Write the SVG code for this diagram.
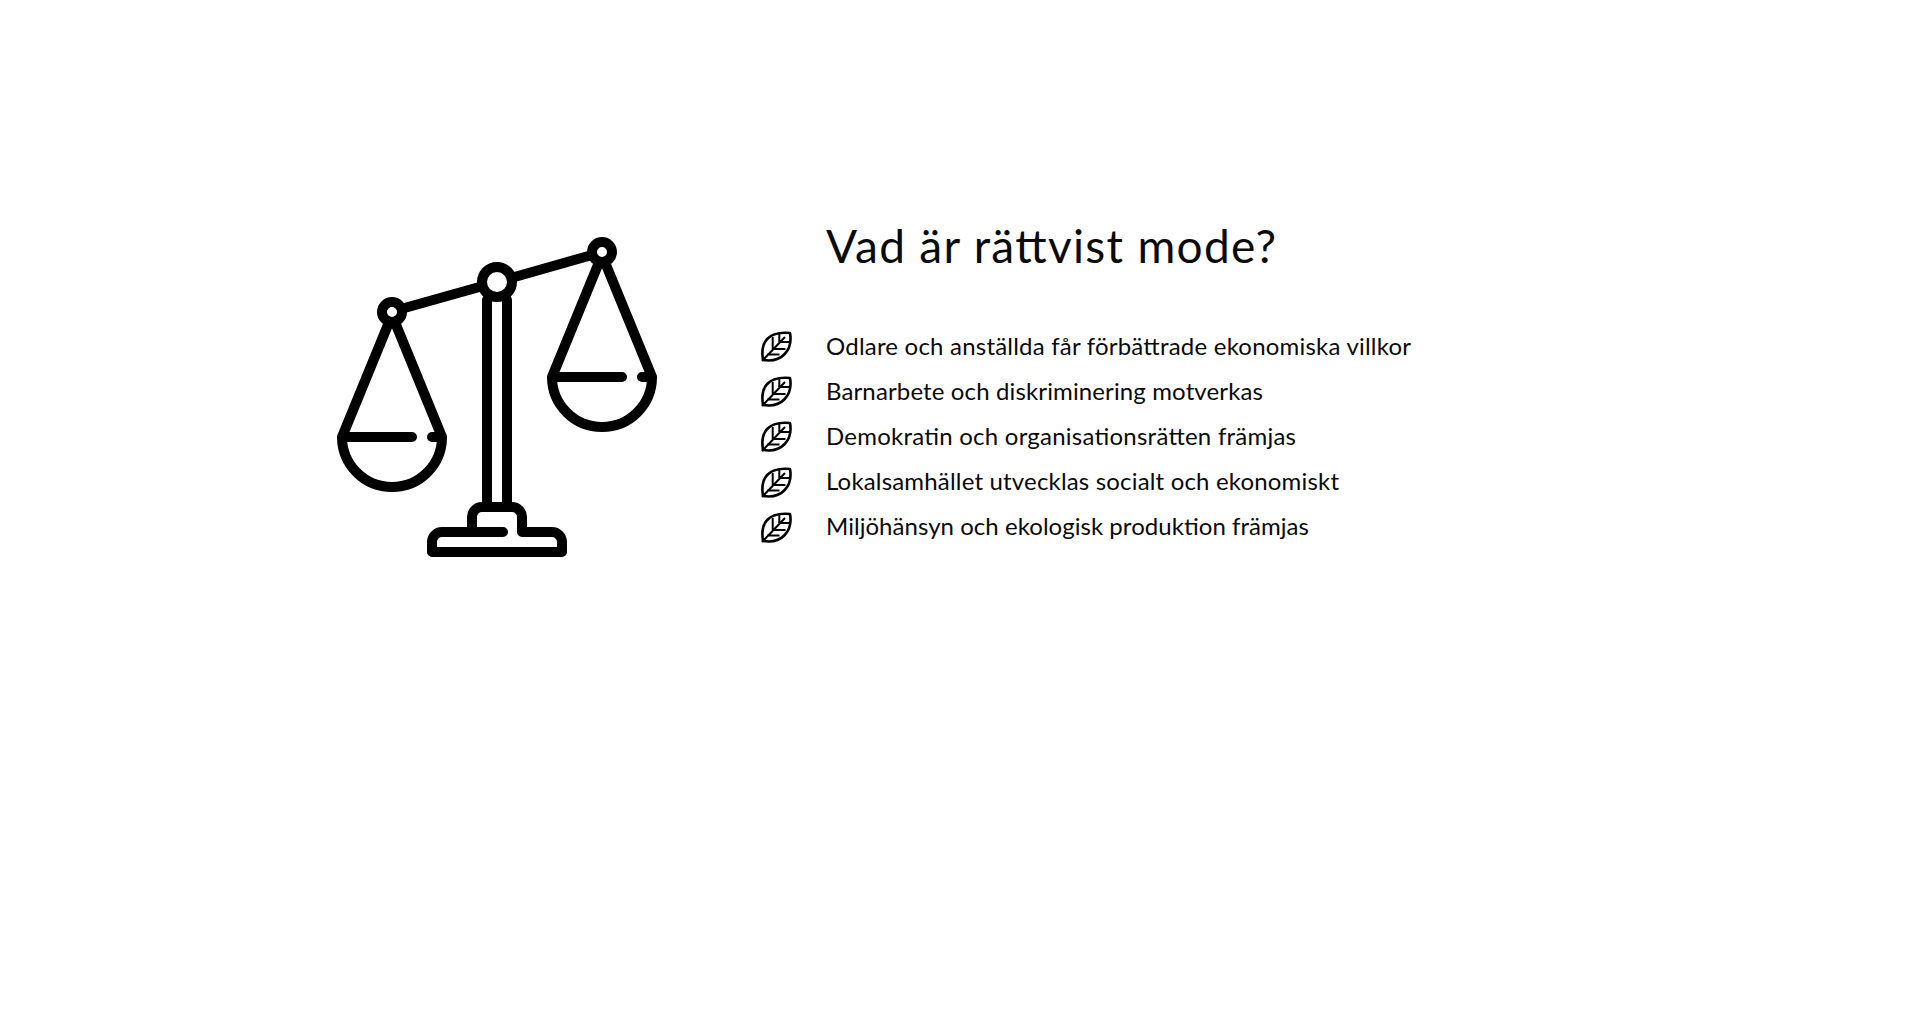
<svg xmlns="http://www.w3.org/2000/svg" width="1920" height="1024" viewBox="0 0 1920 1024">
<style>
.s{fill:none;stroke:#000;stroke-width:10;stroke-linecap:round;stroke-linejoin:round}
.c{fill:#fff;stroke:#000;stroke-width:10}
.l{fill:none;stroke:#000;stroke-width:2.6;stroke-linecap:round;stroke-linejoin:round}
.v{fill:none;stroke:#000;stroke-width:2;stroke-linecap:butt}
text{font-family:"Lato","Noto Sans",sans-serif;fill:#0a0a0a}
.t{font-size:46px}
.b{font-size:24px}
</style>
<defs>
<g id="leaf">
<path class="l" d="M763 360C760 342 768 331 790 333C793 350 782 363 763 360Z"/>
<path class="v" d="M762 361L785 337M779.300 342V334M779.300 342H789.500M772.700 349V337M772.700 349H785.500M767 354.500H779.500"/>
</g>
</defs>
<rect width="1920" height="1024" fill="#fff"/>
<g id="scale">
<path class="s" d="M401 309L483 286M511 278L592 255"/>
<path class="s" d="M392 315L342 437A50 50 0 0 0 442 437L392 315M342 437H412M432 437H442"/>
<path class="s" d="M602 255L552 377A50 50 0 0 0 652 377L602 255M552 377H622M642 377H652"/>
<path class="s" d="M487 300V507M507 300V507"/>
<path class="s" d="M503 532H442A10 10 0 0 0 432 542V552H562V542A10 10 0 0 0 552 532H522V517A10 10 0 0 0 512 507H482A10 10 0 0 0 472 517V532"/>
<circle class="c" cx="392" cy="312" r="10"/>
<circle class="c" cx="497" cy="282" r="15"/>
<circle class="c" cx="602" cy="252" r="10"/>
</g>
<g id="title"><text class="t" x="826" y="263" textLength="450">Vad är rättvist mode?</text></g>
<g id="item1"><use href="#leaf"/><text class="b" x="826" y="355" textLength="585">Odlare och anställda får förbättrade ekonomiska villkor</text></g>
<g id="item2"><use href="#leaf" y="45"/><text class="b" x="826" y="400" textLength="437">Barnarbete och diskriminering motverkas</text></g>
<g id="item3"><use href="#leaf" y="90"/><text class="b" x="826" y="445" textLength="470">Demokratin och organisationsrätten främjas</text></g>
<g id="item4"><use href="#leaf" y="136"/><text class="b" x="826" y="490" textLength="513">Lokalsamhället utvecklas socialt och ekonomiskt</text></g>
<g id="item5"><use href="#leaf" y="181"/><text class="b" x="826" y="535" textLength="483">Miljöhänsyn och ekologisk produktion främjas</text></g>
</svg>
